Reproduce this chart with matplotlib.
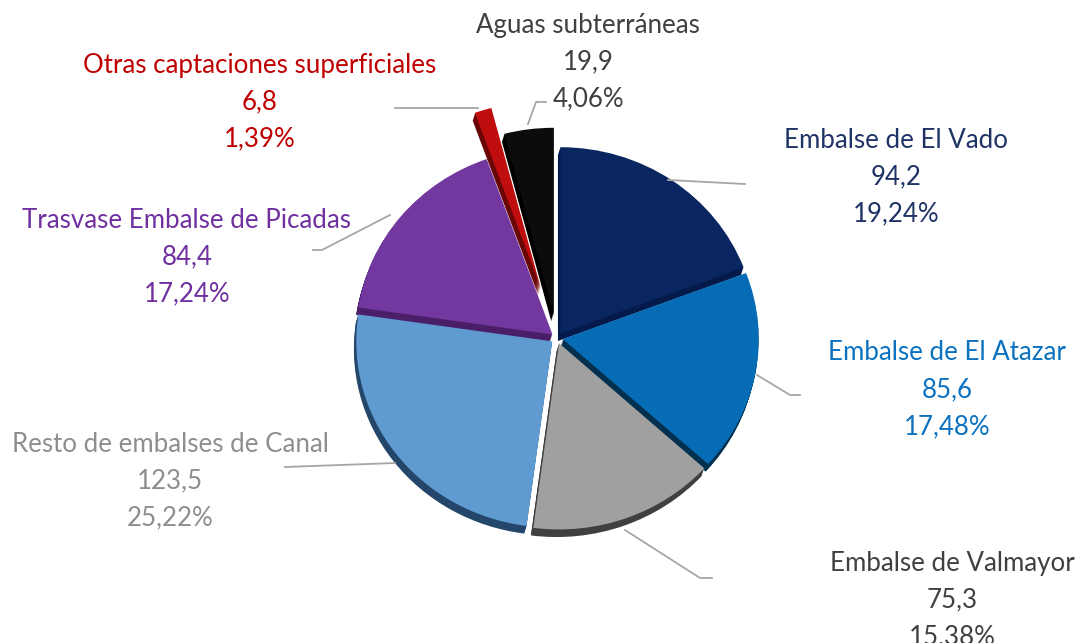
import matplotlib
matplotlib.use("Agg")
import matplotlib.pyplot as plt
from matplotlib.patches import Wedge
from matplotlib.transforms import Affine2D
import numpy as np

labels = ["Embalse de El Vado", "Embalse de El Atazar", "Embalse de Valmayor",
          "Resto de embalses de Canal", "Trasvase Embalse de Picadas",
          "Otras captaciones superficiales", "Aguas subterráneas"]
values = [94.2, 85.6, 75.3, 123.5, 84.4, 6.8, 19.9]
pcts = ["19,24%", "17,48%", "15,38%", "25,22%", "17,24%", "1,39%", "4,06%"]
vals_txt = ["94,2", "85,6", "75,3", "123,5", "84,4", "6,8", "19,9"]
colors = ["#0a2660", "#076cb6", "#a0a0a0", "#5f9bd1", "#7338a0", "#c00e0e", "#0c0c0c"]
side_colors = ["#031a4a", "#03304f", "#404040", "#24466a", "#4a1f68", "#6a0606", "#000000"]
text_colors = ["#1f3366", "#0a72c0", "#404040", "#8e8e8e", "#7030a0", "#c00000", "#404040"]
explode = [0.03, 0.03, 0.03, 0.03, 0.03, 0.28, 0.13]

W, H = 1078, 643
fig = plt.figure(figsize=(W / 100, H / 100), dpi=100)
ax = fig.add_axes([0, 0, 1, 1])
ax.set_xlim(0, W)
ax.set_ylim(0, H)
ax.axis("off")

cx, cy = 557, H - 338
R = 196
yscale = 0.95
squash = Affine2D().translate(-cx, -cy).scale(1, yscale).translate(cx, cy) + ax.transData
total = sum(values)
start = 90.0
wedges_info = []
for v, c, sc, e in zip(values, colors, side_colors, explode):
    sweep = 360.0 * v / total
    t2 = start
    t1 = start - sweep
    mid = np.deg2rad((t1 + t2) / 2)
    ox = cx + e * R * np.cos(mid)
    oy = cy + e * R * np.sin(mid)
    wedges_info.append((ox, oy, t1, t2, c, sc))
    start = t1

# side (thickness) layer
for ox, oy, t1, t2, c, sc in wedges_info:
    for k in range(1, 9):
        ax.add_patch(Wedge((ox - 0.3 * k, oy - k), R, t1, t2, facecolor=sc,
                           edgecolor="none", zorder=2, transform=squash))
for ox, oy, t1, t2, c, sc in wedges_info:
    ax.add_patch(Wedge((ox, oy), R, t1, t2, facecolor=c, edgecolor="none",
                       zorder=3, transform=squash))

# labels: (x, y of middle line) in pixel coords
label_pos = [(896, 177), (947, 390), (952, 600), (170, 481), (187, 257), (260, 102), (588, 62)]
leaders = [
    [(668, 180), (745, 184)],
    [(757, 375), (790, 395), (800, 395)],
    [(625, 530), (700, 578), (712, 578)],
    [(395, 463), (285, 467)],
    [(390, 215), (322, 250), (313, 250)],
    [(478, 108), (395, 108)],
    [(528, 124), (536, 102), (546, 102)],
]
for (lx, ly), lab, vt, p, tc in zip(label_pos, labels, vals_txt, pcts, text_colors):
    ax.text(lx, H - ly, f"{lab}\n{vt}\n{p}", ha="center", va="center", color=tc,
            fontsize=18.6, family=["Lato", "DejaVu Sans"],
            linespacing=1.6, zorder=5)
for pts in leaders:
    xs = [p[0] for p in pts]
    ys = [H - p[1] for p in pts]
    ax.plot(xs, ys, color="#a6a6a6", lw=1.3, zorder=4)

fig.savefig("out.png", dpi=100)
